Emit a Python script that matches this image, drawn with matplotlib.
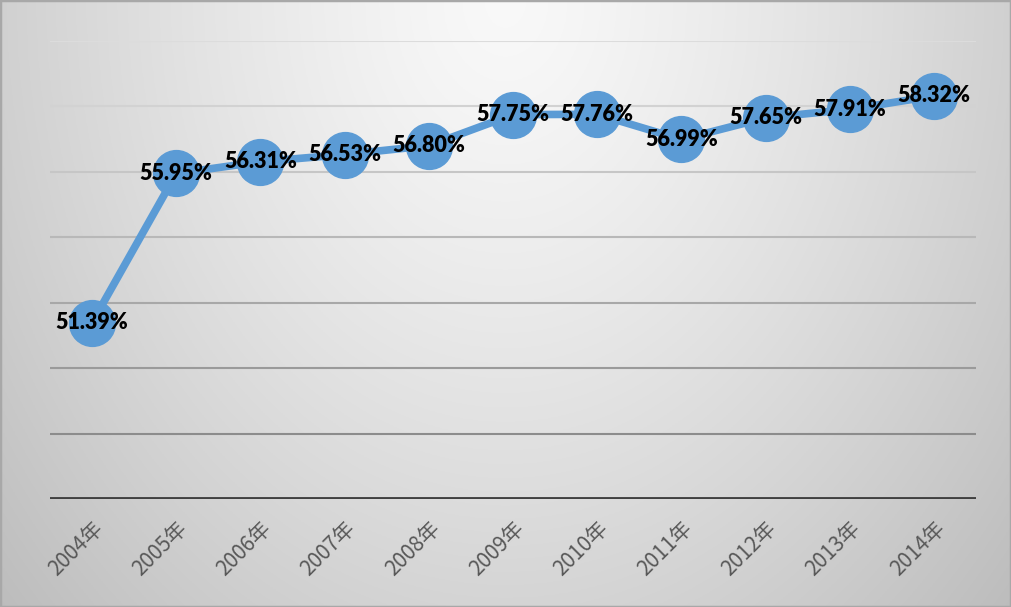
import numpy as np
import matplotlib.pyplot as plt

plt.rcParams['font.family'] = ['Noto Sans CJK SC', 'DejaVu Sans']

years = ['2004年', '2005年', '2006年', '2007年', '2008年', '2009年',
         '2010年', '2011年', '2012年', '2013年', '2014年']
rates = [51.39, 55.95, 56.31, 56.53, 56.80, 57.75, 57.76, 56.99, 57.65, 57.91, 58.32]
labels = ['51.39%', '55.95%', '56.31%', '56.53%', '56.80%', '57.75%',
          '57.76%', '56.99%', '57.65%', '57.91%', '58.32%']
grid_vals = [48, 50, 52, 54, 56, 58, 60]

fig = plt.figure(figsize=(10.11, 6.07), dpi=100)

# gray background, light near top centre
bg = fig.add_axes([0, 0, 1, 1])
gx, gy = np.meshgrid(np.linspace(-1, 1, 400), np.linspace(0, 1, 300))
r = np.sqrt((gx / 1.2) ** 2 + (gy / 1.3) ** 2)
shade = 0.975 - 0.2 * np.clip(r, 0, 1.2) ** 1.3
bg.imshow(np.dstack([shade] * 3), aspect='auto', extent=[0, 1, 0, 1], origin='upper')
bg.set_axis_off()
bg.add_patch(plt.Rectangle((0, 0), 1, 1, fill=False, ec='#a8a8a8', lw=2.5, transform=bg.transAxes))

ax = fig.add_axes([50 / 1011, 1 - 499 / 607, 926 / 1011, 458 / 607])
ax.set_facecolor('none')
x = np.arange(len(years))
ax.set_xlim(-0.5, len(years) - 0.5)
ax.set_ylim(46, 60)

gcols = ['#8c8c8c', '#9a9a9a', '#a8a8a8', '#b8b8b8', '#c6c6c6', '#d2d2d2', '#dcdcdc']
for v, c in zip(grid_vals, gcols):
    ax.axhline(v, color=c, lw=1.5, zorder=1)
ax.axhline(46, color='#404040', lw=3.5, zorder=2)

ax.plot(x, rates, color='#5b9bd5', lw=5.5, marker='o', markersize=33,
        markerfacecolor='#5b9bd5', markeredgecolor='#5b9bd5', zorder=3)
for xi, v, t in zip(x, rates, labels):
    ax.text(xi, v, t, ha='center', va='center', fontsize=15.5, fontweight='heavy',
            color='black', family='Lato', zorder=4)

for s in ax.spines.values():
    s.set_visible(False)
ax.set_yticks([])
ax.set_xticks(x)
ax.set_xticklabels(years, rotation=45, ha='right', rotation_mode='anchor',
                   fontsize=15, color='#595959')
ax.tick_params(axis='x', length=0, pad=13)

fig.savefig('out.png', dpi=100)
